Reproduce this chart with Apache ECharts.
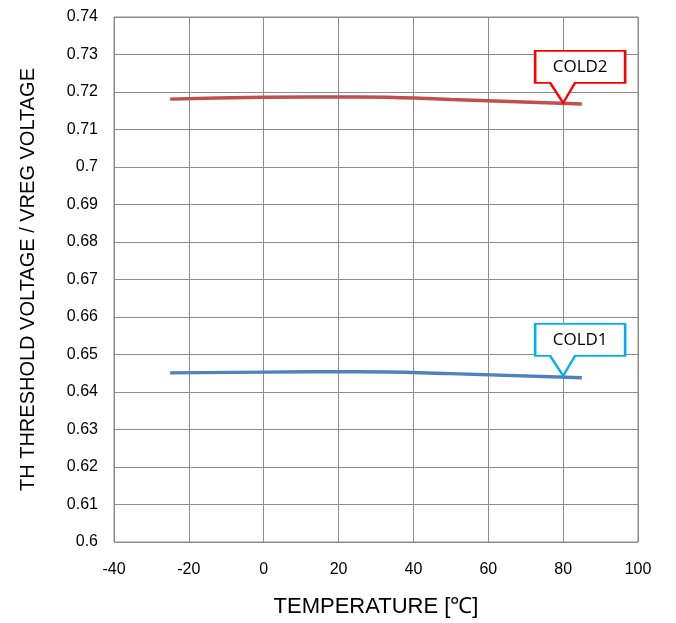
<!DOCTYPE html>
<html>
<head>
<meta charset="utf-8">
<script src="https://cdn.jsdelivr.net/npm/echarts@6/dist/echarts.min.js"></script>
<style>
  html, body { margin: 0; padding: 0; background: #fff; }
  #chart { width: 676px; height: 623px; }
</style>
</head>
<body>
<div id="chart"></div>
<script>
// temperature points (°C)
const temps = [-25, 0, 25, 50, 85]
// COLD2 / COLD1 ratio values
const cold2 = [0.7181, 0.7186, 0.7187, 0.7180, 0.7168]
const cold1 = [0.6451, 0.6453, 0.6454, 0.6449, 0.6438]
// callout anchors
const calloutTemp = 80
const cold2At80 = 0.7171
const cold1At80 = 0.6443

const toPairs = ys => temps.map((t, i) => [t, ys[i]])

// speech-bubble shape: box with pointer, tip at bottom
const bubble = 'path://M0,0 L90,0 L90,32 L40,32 L28,52 L15,32 L0,32 Z'

function callout(name, value, color) {
    return {
        symbol: bubble,
        symbolSize: [90, 52],
        symbolOffset: [17, -26],
        symbolKeepAspect: false,
        silent: true,
        data: [{ coord: [calloutTemp, value] }],
        itemStyle: { color: '#fff', borderColor: color, borderWidth: 2 },
        label: {
            show: true,
            position: 'inside',
            offset: [0, -10],
            formatter: name,
            color: '#000',
            fontFamily: 'Open Sans',
            fontSize: 17
        }
    }
}

let myChart = echarts.init(document.getElementById('chart'))
myChart.setOption({
    animation: false,
    backgroundColor: '#fff',
    grid: {
        left: 114, right: 38, top: 17, bottom: 81,
        show: true, borderColor: '#8c8c8c', borderWidth: 1
    },
    xAxis: {
        type: 'value',
        min: -40, max: 100, interval: 20,
        name: 'TEMPERATURE [℃]',
        nameLocation: 'middle',
        nameGap: 54,
        nameTextStyle: { fontFamily: 'Liberation Sans', fontSize: 22, color: '#000' },
        axisLine: { show: false },
        axisTick: { show: false },
        axisLabel: { fontFamily: 'Liberation Sans', fontSize: 16, color: '#000', margin: 20 },
        splitLine: { lineStyle: { color: '#8c8c8c', width: 1 } }
    },
    yAxis: {
        type: 'value',
        min: 0.6, max: 0.74, interval: 0.01,
        name: 'TH THRESHOLD VOLTAGE / VREG VOLTAGE',
        nameLocation: 'middle',
        nameGap: 76,
        nameTextStyle: { fontFamily: 'Liberation Sans', fontSize: 20, color: '#000' },
        axisLine: { show: false },
        axisTick: { show: false },
        axisLabel: {
            fontFamily: 'Liberation Sans', fontSize: 16, color: '#000', margin: 16,
            formatter: v => String(parseFloat(v.toFixed(2)))
        },
        splitLine: { lineStyle: { color: '#8c8c8c', width: 1 } }
    },
    series: [
        {
            name: 'COLD2',
            type: 'line',
            smooth: true,
            showSymbol: false,
            data: toPairs(cold2),
            lineStyle: { color: '#C0504D', width: 3.5 },
            itemStyle: { color: '#C0504D' },
            markPoint: callout('COLD2', cold2At80, '#FF0000')
        },
        {
            name: 'COLD1',
            type: 'line',
            smooth: true,
            showSymbol: false,
            data: toPairs(cold1),
            lineStyle: { color: '#4F81BD', width: 3.5 },
            itemStyle: { color: '#4F81BD' },
            markPoint: callout('COLD1', cold1At80, '#00B0F0')
        }
    ]
})
</script>
</body>
</html>
